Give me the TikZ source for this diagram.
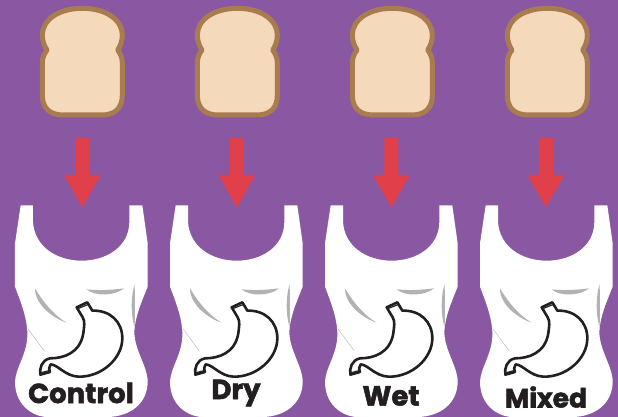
\documentclass[tikz,border=0pt]{standalone}
\usepackage{fontspec}
\setmainfont{Poppins}[BoldFeatures={FakeBold=2}]
\definecolor{bgp}{HTML}{8A57A2}
\definecolor{crust}{HTML}{A97C50}
\definecolor{crumb}{HTML}{F5D9BB}
\definecolor{arrowred}{HTML}{E1404A}
\definecolor{streak}{HTML}{B1B2B5}
\definecolor{ink}{HTML}{231F20}
\tikzset{
  zoomed/.style={x=0.33333pt,y=-0.33333pt},
  labeltext/.style={font=\fontsize{27.5}{28}\selectfont\bfseries,text=ink,inner sep=0pt,draw=none},
  pics/bread/.style={code={
    \draw[zoomed,fill=crumb,draw=crust,line width=5pt,line join=round]
      (187,25) .. controls (262,25) and (307,62) .. (307,105)
      .. controls (307,125) and (300,140) .. (293,150)
      .. controls (300,160) and (307,170) .. (307,190)
      -- (307,285) .. controls (307,325) and (285,345) .. (245,345)
      -- (130,345) .. controls (90,345) and (67,325) .. (67,285)
      -- (67,190) .. controls (67,170) and (74,160) .. (81,150)
      .. controls (74,140) and (67,125) .. (67,105)
      .. controls (67,62) and (112,25) .. (187,25) -- cycle;
  }},
  pics/downarrow/.style={code={
    \fill[zoomed,arrowred] (166,413) -- (208,413) -- (208,525) -- (242,525)
      -- (187,622) -- (132,525) -- (166,525) -- cycle;
  }},
  pics/tank/.style={code={
    \begin{scope}[zoomed]
    \fill[white] (62,46) -- (99,46) -- (99,95)
      .. controls (103,170) and (170,212) .. (245,212)
      .. controls (320,212) and (388,170) .. (388,95)
      -- (388,46) -- (427,46) -- (443,160) -- (443,290)
      .. controls (425,335) and (405,380) .. (403,425)
      .. controls (403,480) and (443,530) .. (443,575)
      .. controls (443,640) and (390,681) .. (320,681)
      -- (135,681) .. controls (90,675) and (45,640) .. (45,575)
      .. controls (47,530) and (85,490) .. (82,425)
      .. controls (80,380) and (62,335) .. (45,290)
      -- (45,160) -- cycle;
    \fill[streak] (105,295) .. controls (125,330) and (160,375) .. (200,398)
      .. controls (160,385) and (105,345) .. (105,295) -- cycle;
    \fill[streak] (260,298) .. controls (295,302) and (335,300) .. (372,295)
      .. controls (345,318) and (285,320) .. (260,298) -- cycle;
    \fill[streak] (404,282) .. controls (392,320) and (392,375) .. (404,412)
      -- (405,350) -- cycle;
    \draw[streak,line width=0.4pt] (85,418) -- (133,483);
    \draw[ink,line width=2.6pt,line join=round,line cap=round]
      (230,352) -- (262,337) -- (277,362)
      .. controls (330,360) and (367,395) .. (367,445)
      .. controls (367,505) and (305,562) .. (235,560)
      .. controls (195,558) and (175,525) .. (152,523)
      .. controls (146,530) and (146,540) .. (150,546)
      -- (121,554) .. controls (118,535) and (125,510) .. (150,505)
      .. controls (190,505) and (240,490) .. (250,430)
      .. controls (252,410) and (256,395) .. (248,382)
      -- cycle;
    \draw[ink,line width=1.2pt] (236,355) -- (266,343);
    \draw[ink,line width=1.2pt] (124,548) -- (150,541);
    \end{scope}
  }}
}
\begin{document}
\begin{tikzpicture}[x=1pt,y=-1pt]
\useasboundingbox (0,0) rectangle (618,417);
\fill[bgp] (0,0) rectangle (618,417);
\foreach \dx in {0,155,310,465}{
  \pic at (20+\dx,0) {bread};
  \pic at (20+\dx*0.997,0) {downarrow};
  \pic at (\dx,190) {tank};
}
\node[labeltext] (lc) at (81,393) {Control};
\node[labeltext] (ld) at (236,393) {Dry};
\node[labeltext] (lw) at (391,396) {Wet};
\node[labeltext,font=\fontsize{26.5}{27}\selectfont\bfseries] (lm) at (546,397) {Mixed};
\end{tikzpicture}
\end{document}
